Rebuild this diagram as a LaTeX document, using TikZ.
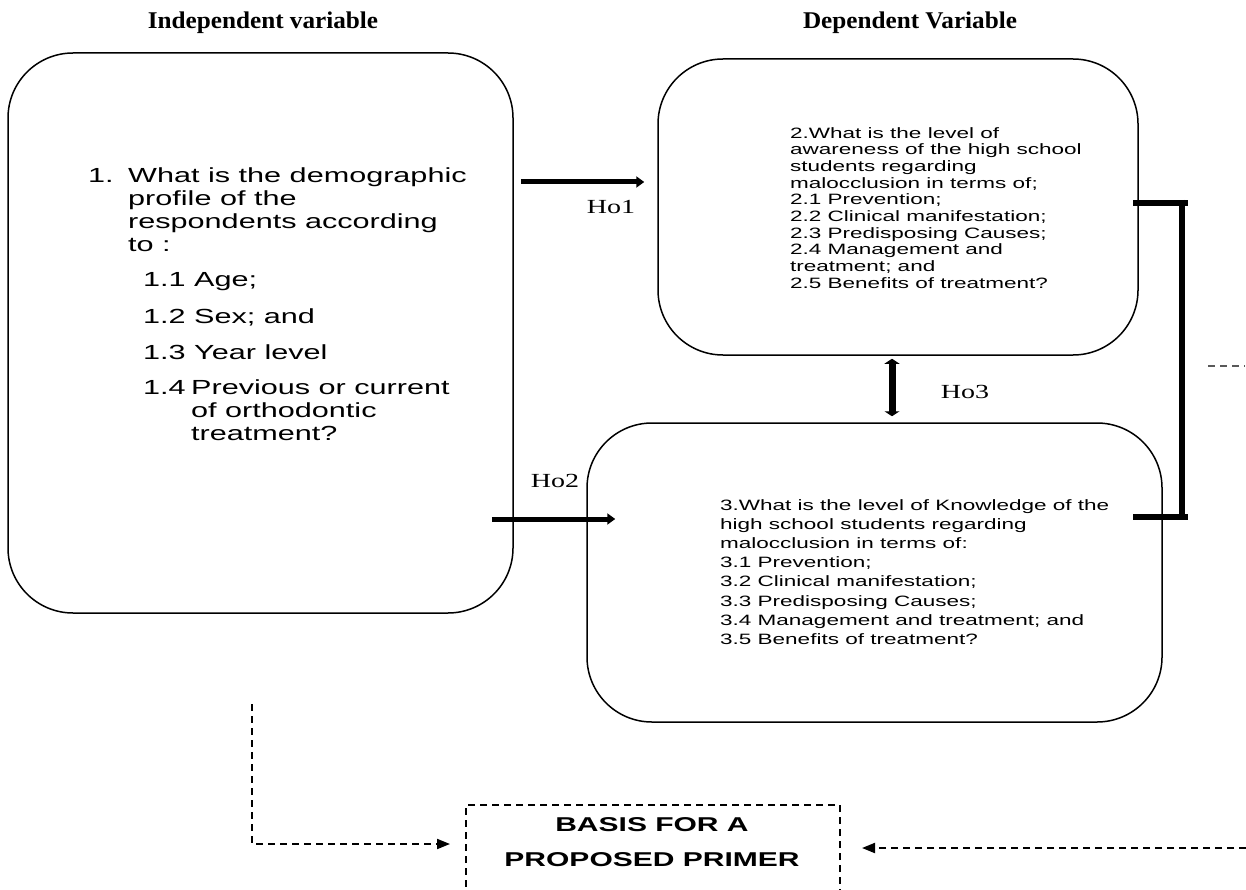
\documentclass[tikz,border=0pt]{standalone}
\usepackage{fontspec}
\setmainfont{Liberation Serif}
\newfontfamily\arialx[FakeStretch=1.5]{Liberation Sans}
\newfontfamily\timesx[FakeStretch=1.05]{Liberation Serif}
\newfontfamily\timesho[FakeStretch=1.4]{Liberation Serif}
\usetikzlibrary{arrows.meta}
\begin{document}
\begin{tikzpicture}[x=1pt,y=-1pt,
  roundbox/.style={draw, line width=1.5pt, rounded corners=65pt, inner sep=0pt},
  dashbox/.style={draw, line width=2pt, dash pattern=on 7pt off 5pt, inner sep=0pt},
  harrow/.style={line width=5pt, -{Triangle[length=8pt,width=11pt]}},
  darrow/.style={line width=7pt, {Triangle[length=5pt,width=15pt]}-{Triangle[length=5pt,width=15pt]}},
  bracketline/.style={line width=6pt},
  dashline/.style={line width=2pt, dash pattern=on 7pt off 5pt},
  dasharrow/.style={dashline, -{Triangle[length=13pt,width=10pt]}},
  headtxt/.style={font=\timesx\bfseries\fontsize{24}{28}\selectfont, anchor=base, inner sep=0pt},
  hotxt/.style={font=\timesho\fontsize{20}{24}\selectfont, anchor=base, inner sep=0pt},
  lefttxt/.style={font=\arialx\fontsize{20.4}{23}\selectfont, anchor=base west, align=left, inner sep=0pt},
  smalltxt/.style={font=\arialx\fontsize{15}{16.7}\selectfont, anchor=base west, align=left, inner sep=0pt},
  knowtxt/.style={font=\arialx\fontsize{15}{19.2}\selectfont, anchor=base west, align=left, inner sep=0pt},
  basistxt/.style={font=\arialx\bfseries\fontsize{20}{24}\selectfont, anchor=base, inner sep=0pt}
]
\useasboundingbox (0,0) rectangle (1246,890);

% headings
\node[headtxt] (hind) at (263,29) {Independent variable};
\node[headtxt] (hdep) at (910,29) {Dependent Variable};

% boxes
\node[roundbox, minimum width=505pt, minimum height=560pt] (indep) at (260.5,333) {};
\node[roundbox, minimum width=480pt, minimum height=296pt] (aware) at (898,207) {};
\node[roundbox, minimum width=575pt, minimum height=299pt] (know) at (874.5,572.5) {};
\node[dashbox, minimum width=374pt, minimum height=125pt] (basis) at (653,867.5) {};

% left box text (anchor = baseline of the last line)
\node[lefttxt] (n1) at (88,183) {1.};
\node[lefttxt] (q1) at (128,252) {What is the demographic\\profile of the\\respondents according\\to :};
\node[lefttxt] (q11) at (143,287) {1.1 Age;};
\node[lefttxt] (q12) at (143,323) {1.2 Sex; and};
\node[lefttxt] (q13) at (143,359) {1.3 Year level};
\node[lefttxt] (q14n) at (143,394) {1.4};
\node[lefttxt] (q14) at (191,440) {Previous or current\\of orthodontic\\treatment?};

% aware text
\node[smalltxt] (q2) at (790,288.3) {2.What is the level of\\awareness of the high school\\students regarding\\malocclusion in terms of;\\2.1 Prevention;\\2.2 Clinical manifestation;\\2.3 Predisposing Causes;\\2.4 Management and\\treatment; and\\2.5 Benefits of treatment?};

% know text
\node[knowtxt] (q3) at (720,644.4) {3.What is the level of Knowledge of the\\high school students regarding\\malocclusion in terms of:\\3.1 Prevention;\\3.2 Clinical manifestation;\\3.3 Predisposing Causes;\\3.4 Management and treatment; and\\3.5 Benefits of treatment?};

% basis text
\node[basistxt] (b1) at (652,831) {BASIS FOR A};
\node[basistxt] (b2) at (652,866) {PROPOSED PRIMER};

% hypothesis arrows
\draw[harrow] ([shift={(7,-151)}]indep.east) -- ([shift={(-13,-25)}]aware.west);
\node[hotxt] (ho1) at (611,214) {Ho1};
\draw[harrow] ([shift={(-22,186)}]indep.east) -- ([shift={(29,-53.5)}]know.west);
\node[hotxt] (ho2) at (555,487) {Ho2};
\draw[darrow] ([shift={(-6,3)}]aware.south) -- ([shift={(17.5,-6)}]know.north);
\node[hotxt] (ho3) at (965,398) {Ho3};

% bracket
\coordinate (bt1) at (1133,203);
\coordinate (bt2) at (1188,203);
\coordinate (bb1) at (1133,517);
\coordinate (bb2) at (1188,517);
\coordinate (bvt) at (1182,200);
\coordinate (bvb) at (1182,520);
\draw[bracketline] (bt1) -- (bt2);
\draw[bracketline] (bb1) -- (bb2);
\draw[bracketline] (bvt) -- (bvb);

% gray dashes
\coordinate (gd1) at (1208,366);
\coordinate (gd2) at (1245,366);
\draw[line width=1.5pt, draw=black!65, dash pattern=on 7pt off 5pt] (gd1) -- (gd2);

% dashed arrows to basis
\coordinate (ls) at (252,704);
\coordinate (lc) at (252,844);
\draw[dasharrow] (ls) -- (lc) -- ([shift={(-15,-23.5)}]basis.west);
\coordinate (rs) at (1246,848);
\draw[dasharrow] (rs) -- ([shift={(21,-19.5)}]basis.east);
\end{tikzpicture}
\end{document}
